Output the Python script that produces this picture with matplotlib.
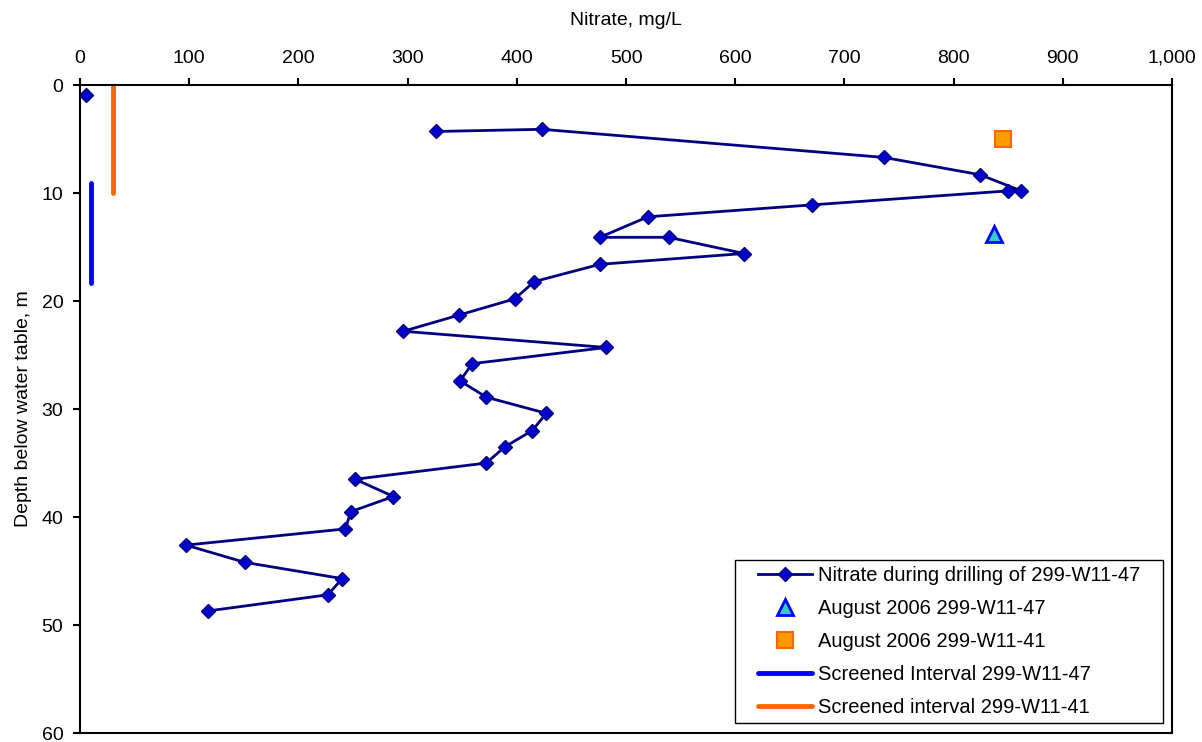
import numpy as np
import matplotlib.pyplot as plt
from matplotlib.patches import Rectangle
from matplotlib.ticker import FuncFormatter

plt.rcParams['font.family'] = ['Liberation Sans', 'DejaVu Sans']

# nitrate measured while drilling 299-W11-47 (nan = break in the line after the first sample)
nitrate = [5, np.nan, 326, 423, 736, 824, 862, 850, 670, 520, 476, 539, 608, 476,
           416, 398, 347, 296, 482, 359, 348, 372, 427, 414, 389, 372,
           252, 287, 248, 243, 97, 151, 240, 227, 117]
depth = [0.9, np.nan, 4.3, 4.1, 6.7, 8.3, 9.8, 9.8, 11.1, 12.2, 14.1, 14.1, 15.6, 16.6,
         18.2, 19.8, 21.3, 22.8, 24.3, 25.8, 27.4, 28.9, 30.4, 32.0, 33.5, 35.0,
         36.5, 38.1, 39.5, 41.1, 42.6, 44.2, 45.7, 47.2, 48.7]

aug_w47 = ([837], [13.8])
aug_w41 = ([845], [5.0])

screen_w47 = ([10, 10], [9.1, 18.3])
screen_w41 = ([30, 30], [0, 10])

fig = plt.figure(figsize=(12.02, 7.42), dpi=100)
ax = fig.add_axes([0.0666, 0.0121, 0.9085, 0.8733])

ax.plot(nitrate, depth, color='#000080', lw=2, marker='D', markersize=7.5,
        markerfacecolor='#0000CC', markeredgecolor='#000080',
        label='Nitrate during drilling of 299-W11-47')
ax.plot(*aug_w47, ls='none', marker='^', markersize=11, markerfacecolor='#33CCCC',
        markeredgecolor='#0000FF', markeredgewidth=2, label='August 2006 299-W11-47')
ax.plot(*aug_w41, ls='none', marker='s', markersize=11, markerfacecolor='#FF9900',
        markeredgecolor='#FF6600', markeredgewidth=1.5, label='August 2006 299-W11-41')
ax.plot(*screen_w47, color='#0000FF', lw=3.5, solid_capstyle='round',
        label='Screened Interval 299-W11-47')
ax.plot(*screen_w41, color='#FF6600', lw=3.5, solid_capstyle='round',
        label='Screened interval 299-W11-41')

ax.set_xlim(0, 1000)
ax.set_ylim(60, 0)
ax.set_xticks(np.arange(0, 1001, 100))
ax.set_yticks(np.arange(0, 61, 10))
ax.xaxis.set_major_formatter(FuncFormatter(lambda v, p: f'{int(v):,}'))
ax.xaxis.tick_top()
ax.xaxis.set_label_position('top')
ax.tick_params(axis='both', direction='out', length=5, width=1.5, labelsize=14)
ax.tick_params(axis='x', pad=8)
ax.tick_params(axis='y', pad=7)
ax.set_xlabel('Nitrate, mg/L', fontsize=14, labelpad=18)
ax.set_ylabel('Depth below water table, m', fontsize=14, labelpad=7)
for s in ax.spines.values():
    s.set_linewidth(1.5)
    s.set_color('black')

# legend frame drawn separately so the side padding can be wider than the top/bottom
box = Rectangle((0.5998, 0.0154), 0.392, 0.2516, transform=ax.transAxes,
                facecolor='white', edgecolor='black', lw=1, zorder=4)
ax.add_patch(box)
leg = ax.legend(loc='center', bbox_to_anchor=(0.7958, 0.1412), fontsize=14.5,
                frameon=False, handlelength=2.7, borderpad=0.2,
                labelspacing=0.7, handletextpad=0.3)
leg.set_zorder(5)

fig.savefig('out.png', dpi=100)
